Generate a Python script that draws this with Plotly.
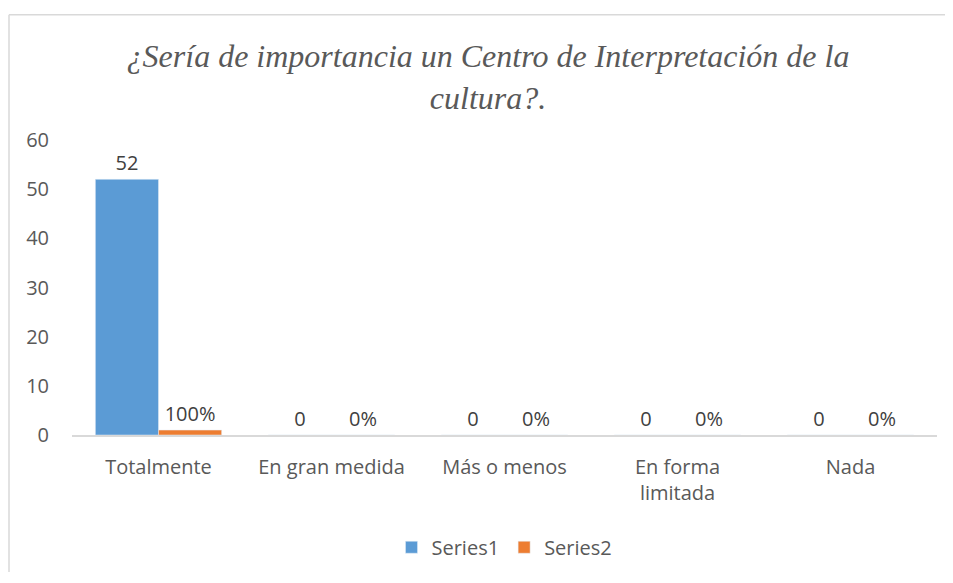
import plotly.graph_objects as go

categories = ["Totalmente", "En gran medida", "Más o menos", "En forma<br>limitada", "Nada"]
series1 = [52, 0, 0, 0, 0]
series2 = [1.0, 0, 0, 0, 0]
series2_labels = [f"{v:.0%}" for v in series2]
yticks = [0, 10, 20, 30, 40, 50, 60]

# the page places the figure at (8, 8) with an 8px body margin;
# all sizes below are in figure pixels
OFF = 8
W, H = 953 - 2 * OFF, 583 - 2 * OFF
L = 72 - OFF
T = 140 - OFF
R = W - (937 - OFF)
B = H - (437 - OFF)
pw = W - L - R
ph = H - T - B

FONT = "Open Sans, Lato, sans-serif"

fig = go.Figure()
fig.add_trace(go.Bar(
    x=categories, y=series1, name="Series1", marker_color="#5B9BD5",
    text=[str(v) for v in series1], textposition="outside", cliponaxis=False,
    textfont=dict(family=FONT, size=20, color="#404040"),
))
fig.add_trace(go.Bar(
    x=categories, y=series2, name="Series2", marker_color="#ED7D31",
    text=series2_labels, textposition="outside", cliponaxis=False,
    textfont=dict(family=FONT, size=20, color="#404040"),
))

border = dict(color="#D9D9D9", width=1.5)
fig.update_layout(
    width=W, height=H,
    margin=dict(l=L, r=R, t=T, b=B),
    paper_bgcolor="white", plot_bgcolor="white",
    barmode="group", bargap=0.27, bargroupgap=0,
    title=dict(
        text="<i>¿Sería de importancia un Centro de Interpretación de la<br>cultura?.</i>",
        x=(488 - OFF) / W, xanchor="center", y=1 - 59 / H, yanchor="top",
        font=dict(family="Liberation Serif, Times New Roman, serif", size=32, color="#595959"),
    ),
    font=dict(family=FONT, size=20, color="#595959"),
    xaxis=dict(
        showline=True, linecolor="#D9D9D9", linewidth=2, ticks="",
        showgrid=False, ticklabelstandoff=13,
        tickfont=dict(size=20, color="#595959"),
    ),
    yaxis=dict(
        range=[0, 60], tickvals=yticks, showgrid=False, zeroline=False,
        showline=False, ticks="", ticklabelstandoff=22,
        tickfont=dict(size=20, color="#595959"),
    ),
    legend=dict(
        orientation="h", x=0.5, xanchor="center",
        y=-((550 - OFF) - (T + ph)) / ph, yanchor="middle",
        font=dict(size=20, color="#595959"), traceorder="normal",
    ),
    showlegend=True,
    shapes=[
        dict(type="line", xref="paper", yref="paper",
             x0=(1 - L) / pw, x1=(1 - L) / pw,
             y0=(T + ph - H) / ph, y1=(T + ph - (14 - OFF)) / ph,
             line=border, layer="below"),
        dict(type="line", xref="paper", yref="paper",
             x0=(1 - L) / pw, x1=(W - L) / pw,
             y0=(T + ph - (14 - OFF)) / ph, y1=(T + ph - (14 - OFF)) / ph,
             line=border, layer="below"),
    ],
)

fig.write_html("out.html")
